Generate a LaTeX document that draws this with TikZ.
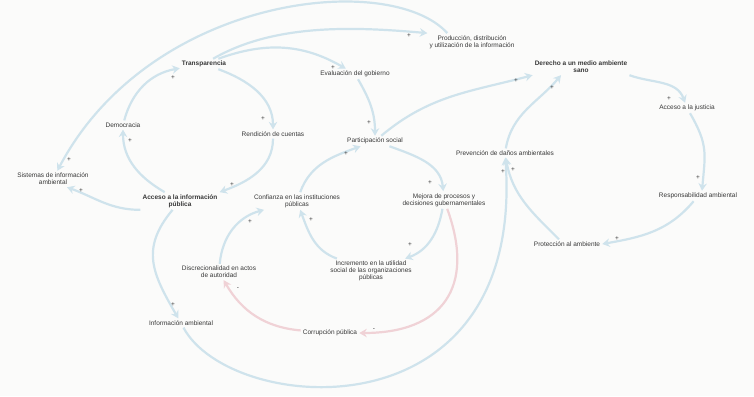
\documentclass[tikz,border=0pt]{standalone}
\usepackage{fontspec}
\setmainfont{Liberation Sans}
\usepackage{tikz}
\usetikzlibrary{arrows.meta}
\usepackage{xcolor}
\definecolor{linkblue}{HTML}{CFE3EC}
\definecolor{linkred}{HTML}{F0D2D6}
\definecolor{labelgray}{HTML}{383838}
\definecolor{bgpaper}{HTML}{FBFBFA}

\begin{document}
\begin{tikzpicture}[x=1pt, y=1pt,
    var/.style={align=center, inner sep=2pt, text=labelgray, font=\fontsize{6.5}{7.2}\selectfont},
    keyvar/.style={var, font=\fontsize{6.5}{7.2}\selectfont\bfseries},
    pos link/.style={draw=linkblue, line width=2.2pt, -{Stealth[length=7.5pt, width=8.5pt, inset=2.5pt]}},
    neg link/.style={pos link, draw=linkred},
    sign/.style={inner sep=0pt, text=labelgray, font=\fontsize{6.5}{6.5}\selectfont}
]
    % 1. Paper, fixes the size of the picture
    \fill[bgpaper] (0,0) rectangle (754,-396);
    \useasboundingbox (0,0) rectangle (754,-396);

    % 2. Variables of the diagram
    \node[keyvar] (trans) at (204,-64) {Transparencia};
    \node[var] (dem) at (123,-125) {Democracia};
    \node[var] (rend) at (273,-134) {Rendición de cuentas};
    \node[var] (eval) at (355,-74) {Evaluación del gobierno};
    \node[var] (prod) at (472,-42) {Producción, distribución\\y utilización de la información};
    \node[var] (part) at (375,-141) {Participación social};
    \node[keyvar] (der) at (581,-67) {Derecho a un medio ambiente\\sano};
    \node[var] (just) at (687,-108) {Acceso a la justicia};
    \node[var] (prev) at (505,-153) {Prevención de daños ambientales};
    \node[var] (sis) at (53,-179) {Sistemas de información\\ambiental};
    \node[keyvar] (acc) at (180,-201) {Acceso a la información\\pública};
    \node[var] (conf) at (297,-201) {Confianza en las instituciones\\públicas};
    \node[var] (mej) at (444,-200) {Mejora de procesos y\\decisiones gubernamentales};
    \node[var] (resp) at (698,-196) {Responsabilidad ambiental};
    \node[var] (prot) at (567,-244) {Protección al ambiente};
    \node[var] (disc) at (219,-272) {Discrecionalidad en actos\\de autoridad};
    \node[var] (inc) at (371,-271) {Incremento en la utilidad\\social de las organizaciones\\públicas};
    \node[var] (infamb) at (181,-323) {Información ambiental};
    \node[var] (corr) at (330,-333) {Corrupción pública};

    % 3. Left loop: transparencia and acceso a la información
    \draw[pos link] (acc) to[out=150, in=-90] (dem);
    \draw[pos link] (dem) to[out=75, in=190] (trans);
    \draw[pos link] (trans) to[out=-20, in=90] (rend);
    \draw[pos link] (rend) to[out=-90, in=20] (acc.north east);
    \draw[pos link] (acc.south west) to[out=180, in=-20] ([xshift=14pt]sis.south);
    \draw[pos link] (acc) to[out=-130, in=120, looseness=1.2] (infamb);

    % 4. Long arcs over the top and under the bottom
    \draw[pos link] (trans) to[out=20, in=150] (eval);
    \draw[pos link] (trans) to[out=30, in=175, looseness=0.85] (prod.north west);
    \draw[pos link] ([xshift=20pt]prod.north west) .. controls (390,30) and (150,5) .. (sis);
    \draw[pos link] (infamb) .. controls (230,-415) and (525,-440) .. (prev);

    % 5. Middle loop: participación and confianza
    \draw[pos link] (eval) to[out=-60, in=90] (part);
    \draw[pos link] (part) to[out=-20, in=95] (mej);
    \draw[pos link] (conf) to[out=70, in=-160] (part);
    \draw[pos link] (mej) to[out=-100, in=20] (inc);
    \draw[pos link] (inc) to[out=160, in=-70] (conf);
    \draw[pos link] (disc) to[out=85, in=195] (conf);

    % 5a. Negative links through corrupción
    \draw[neg link] (mej) to[out=-70, in=0, looseness=1.4] (corr);
    \draw[neg link] (corr) to[out=175, in=-60] (disc);

    % 6. Right loop: medio ambiente sano
    \draw[pos link] (part) to[out=40, in=195] (der.south west);
    \draw[pos link] (prev) to[out=80, in=-130] ([xshift=-20pt]der.south);
    \draw[pos link] (der.south east) to[out=-20, in=110] (just);
    \draw[pos link] (just) to[out=-60, in=85, looseness=1.2] ([xshift=4pt]resp.north);
    \draw[pos link] (resp) to[out=-130, in=10] (prot.east);
    \draw[pos link] ([xshift=-8pt]prot.north) to[out=135, in=-80] (prev);

    % 7. Polarity of each link
    \foreach \x/\y [count=\i] in {130/141, 173/78, 263/119, 232/185, 81/191, 173/305,
        503/172, 513/170, 552/88, 516/81, 669/99, 698/178, 617/239, 333/68, 409/36,
        69/160, 369/123, 430/183, 346/154, 410/245, 311/220, 250/222} {
        \node[sign] (plus\i) at (\x,-\y) {+};
    }
    \node[sign] (minus1) at (374,-330) {-};
    \node[sign] (minus2) at (238,-289) {-};

\end{tikzpicture}
\end{document}
